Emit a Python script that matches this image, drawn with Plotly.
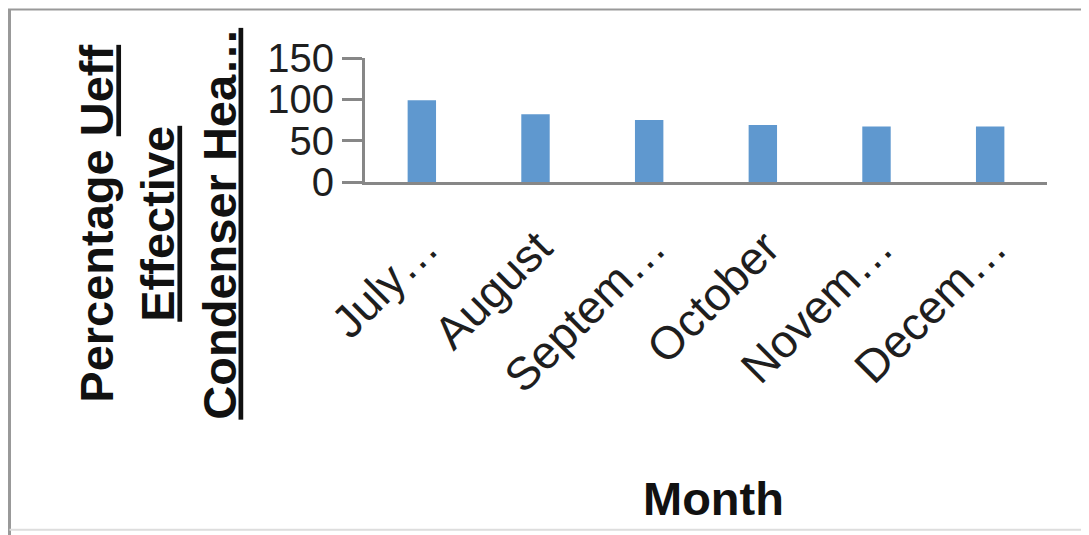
import plotly.graph_objects as go

months = ["July…", "August", "Septem…", "October", "Novem…", "Decem…"]
values = [99, 82, 75, 69, 67, 67]
y_ticks = [0, 50, 100, 150]

# page body adds an 8px margin; work in screen pixels and convert
OFF = 8
W, H = 1089 - OFF, 535 - OFF
L, R, T = 365 - OFF, 42, 57.5 - OFF
B = H - (182.5 - OFF)
pw, ph = W - L - R, H - T - B

def px(x):
    return (x - OFF - L) / pw

def py(y):
    return (H - B - (y - OFF)) / ph

axis_gray = "#878787"

fig = go.Figure(go.Bar(x=months, y=values, marker=dict(color="#5f98cf", line=dict(width=0)), width=0.25))

fig.update_layout(
    width=W, height=H,
    margin=dict(l=L, r=R, t=T, b=B, autoexpand=False),
    paper_bgcolor="white", plot_bgcolor="white",
    showlegend=False,
    font=dict(family="Liberation Sans, Arial, sans-serif", color="#1e1e1e"),
    xaxis=dict(
        showline=True, linecolor=axis_gray, linewidth=3,
        ticks="", showgrid=False, tickangle=-45,
        tickfont=dict(size=46, color="#1e1e1e"),
        ticklabelstandoff=17, ticklabelshift=3,
        automargin=False,
    ),
    yaxis=dict(
        range=[0, 150], tickvals=y_ticks, showline=True, linecolor=axis_gray, linewidth=3,
        ticks="outside", ticklen=20, tickwidth=3, tickcolor=axis_gray,
        showgrid=False, zeroline=False,
        tickfont=dict(size=40, color="#1e1e1e"),
        automargin=False,
    ),
    annotations=[
        dict(text="<b>Percentage <u>Ueff</u><br><u>Effective</u><br><u>Condenser Hea…</u></b>",
             xref="paper", yref="paper", x=px(157.5), y=py(225), xanchor="center", yanchor="middle",
             textangle=-90, showarrow=False, align="center",
             font=dict(size=47, color="#111")),
        dict(text="<b>Month</b>", xref="paper", yref="paper", x=px(713), y=py(502),
             xanchor="center", yanchor="middle", showarrow=False,
             font=dict(size=47, color="#111")),
    ],
    shapes=[
        dict(type="line", xref="paper", yref="paper", x0=px(8), x1=px(1100), y0=py(8.5), y1=py(8.5),
             line=dict(color="#999999", width=2)),
        dict(type="line", xref="paper", yref="paper", x0=px(9.5), x1=px(9.5), y0=py(8), y1=py(540),
             line=dict(color="#999999", width=3)),
        dict(type="line", xref="paper", yref="paper", x0=px(9.5), x1=px(1100), y0=py(533), y1=py(533),
             line=dict(color="#dddddd", width=2)),
    ],
)

fig.write_html("out.html")
